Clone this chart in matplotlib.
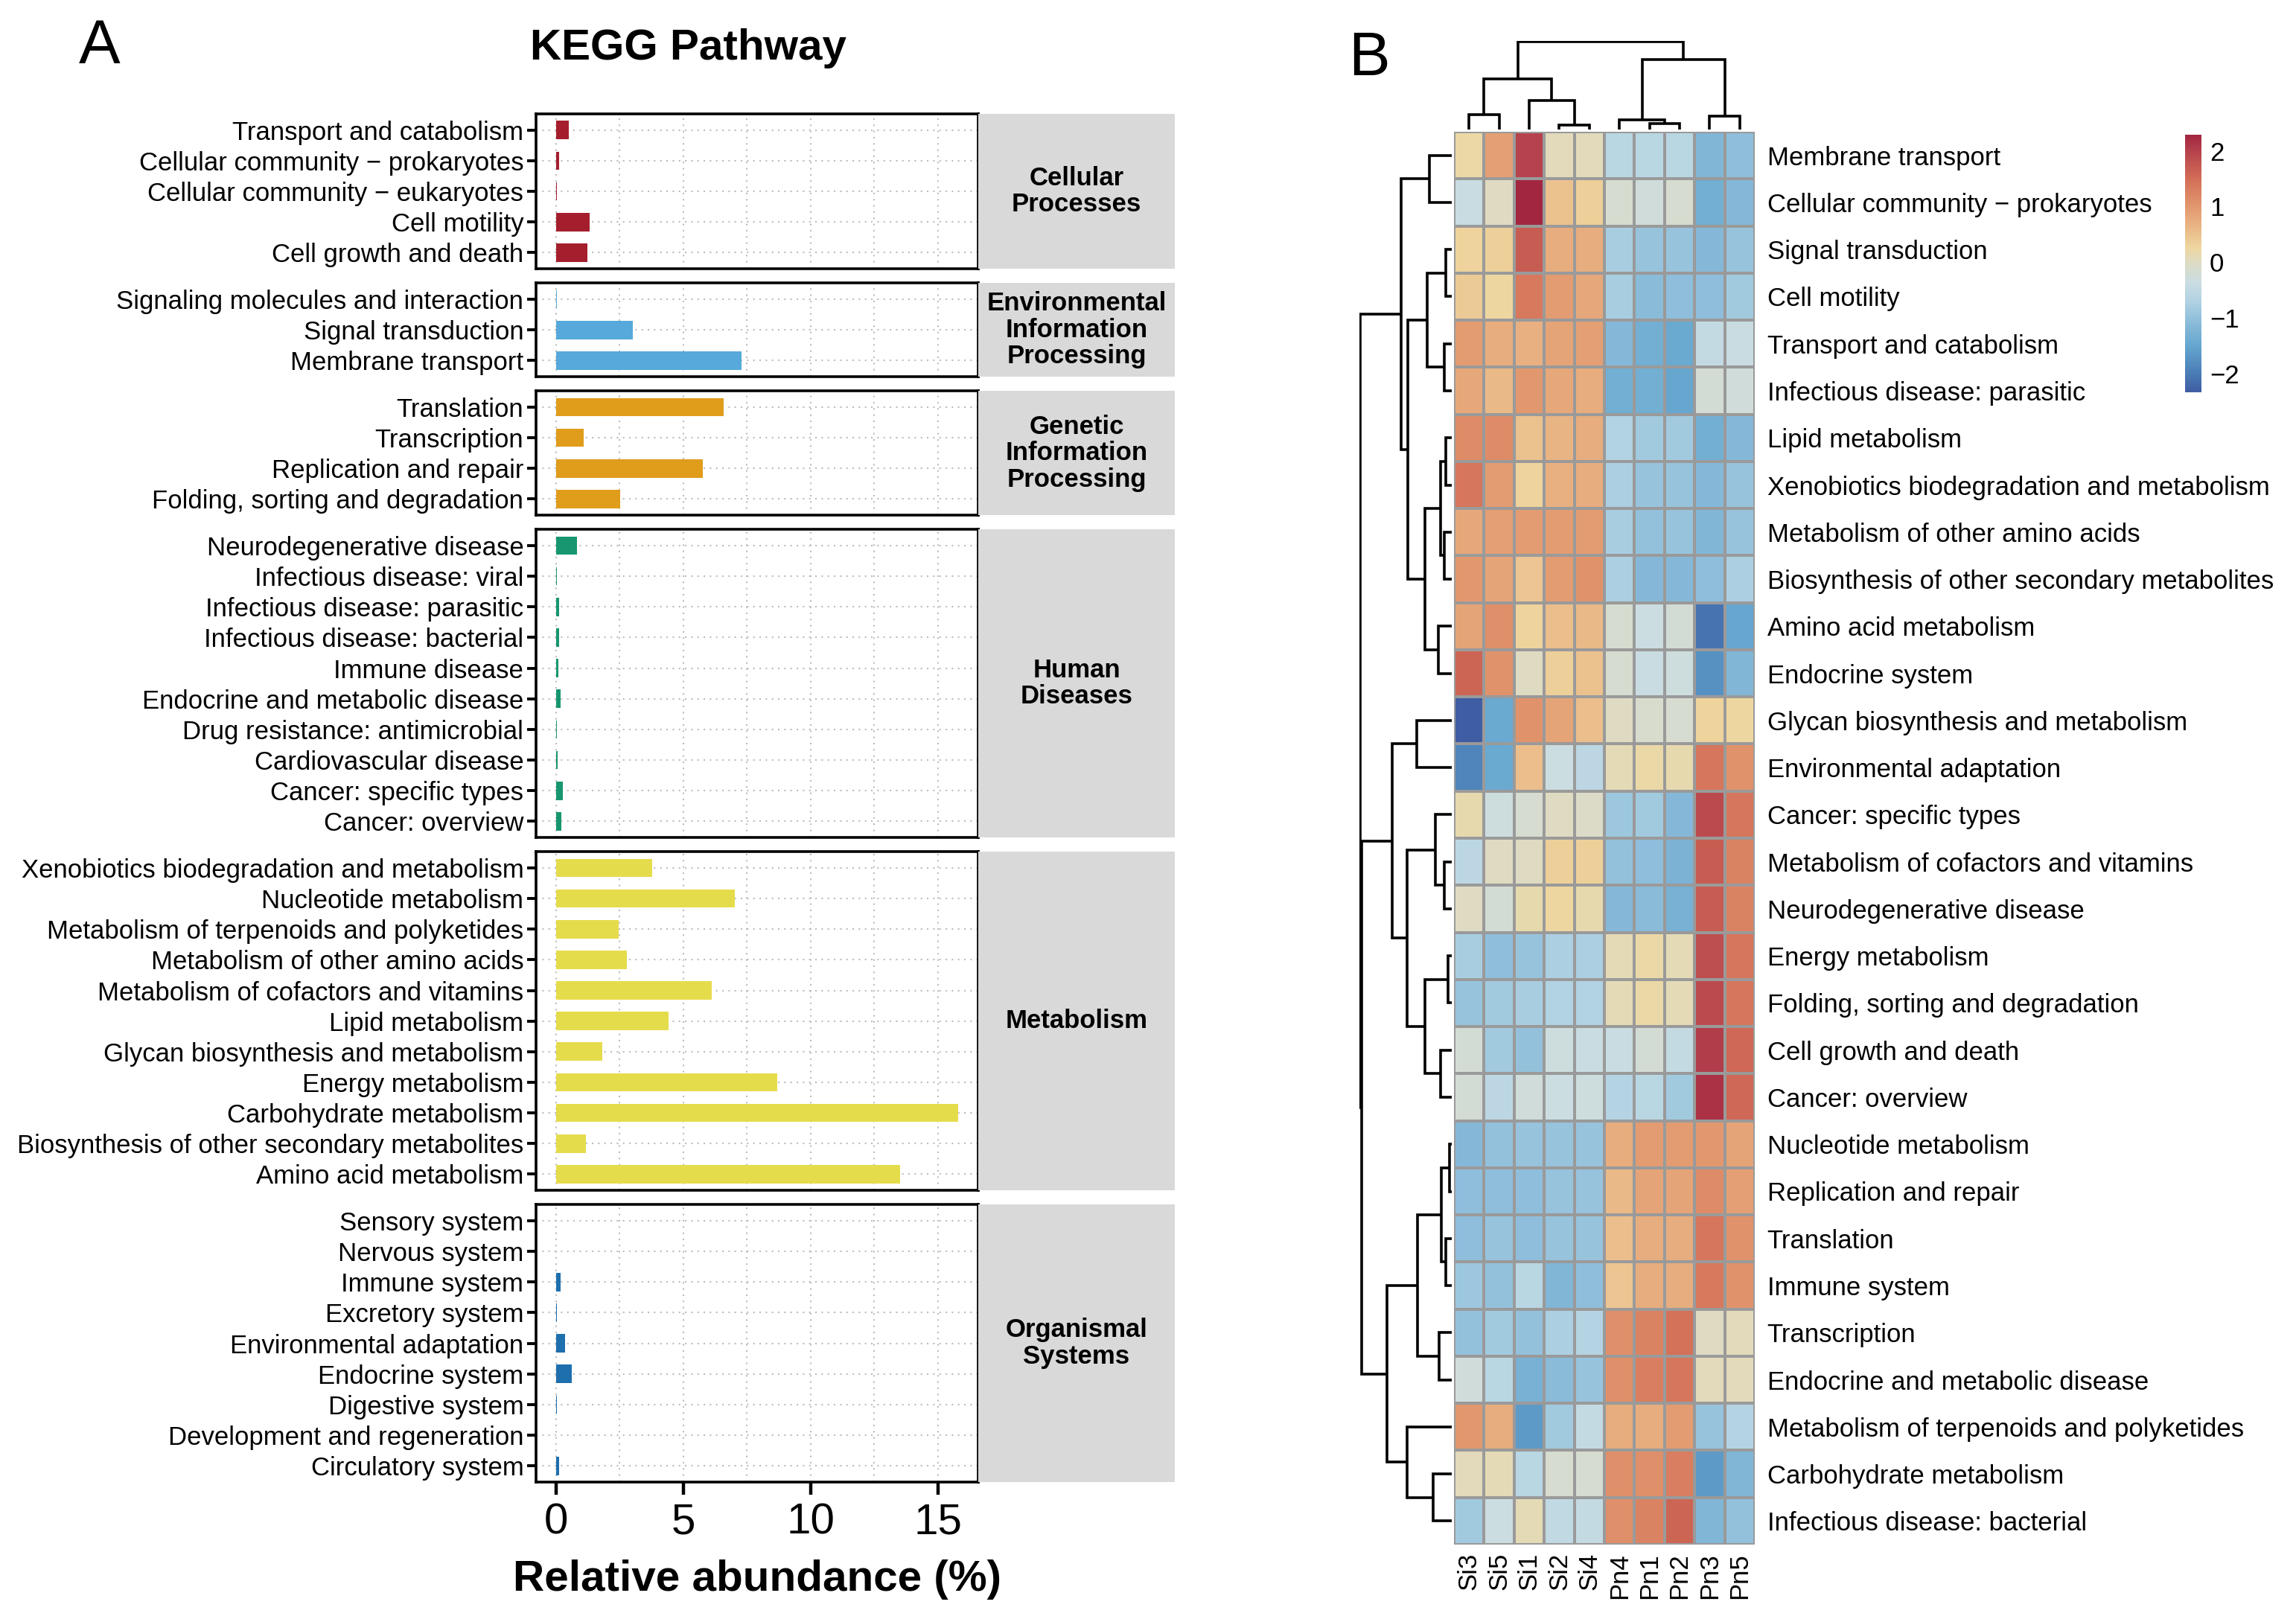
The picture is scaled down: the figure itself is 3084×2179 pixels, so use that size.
import numpy as np
import matplotlib
matplotlib.use("Agg")
import matplotlib.pyplot as plt
from matplotlib.colors import LinearSegmentedColormap, Normalize
from matplotlib.cm import ScalarMappable

plt.rcParams['font.family'] = ['Liberation Sans', 'DejaVu Sans']

# ---- panel A data (relative abundance, %) ----
group_names = ["Cellular\nProcesses", "Environmental\nInformation\nProcessing",
               "Genetic\nInformation\nProcessing", "Human\nDiseases",
               "Metabolism", "Organismal\nSystems"]
group_colors = ["#A51E2D", "#56A9DA", "#E09C1B", "#17966F", "#E5DC4C", "#1E6FAE"]

cellular_labels = ["Transport and catabolism", "Cellular community \u2212 prokaryotes",
                   "Cellular community \u2212 eukaryotes", "Cell motility", "Cell growth and death"]
cellular_vals = [0.50, 0.13, 0.02, 1.31, 1.22]

env_labels = ["Signaling molecules and interaction", "Signal transduction", "Membrane transport"]
env_vals = [0.02, 3.00, 7.27]

genetic_labels = ["Translation", "Transcription", "Replication and repair",
                  "Folding, sorting and degradation"]
genetic_vals = [6.58, 1.07, 5.77, 2.52]

human_labels = ["Neurodegenerative disease", "Infectious disease: viral",
                "Infectious disease: parasitic", "Infectious disease: bacterial",
                "Immune disease", "Endocrine and metabolic disease",
                "Drug resistance: antimicrobial", "Cardiovascular disease",
                "Cancer: specific types", "Cancer: overview"]
human_vals = [0.81, 0.02, 0.13, 0.13, 0.10, 0.18, 0.02, 0.05, 0.25, 0.20]

metab_labels = ["Xenobiotics biodegradation and metabolism", "Nucleotide metabolism",
                "Metabolism of terpenoids and polyketides", "Metabolism of other amino acids",
                "Metabolism of cofactors and vitamins", "Lipid metabolism",
                "Glycan biosynthesis and metabolism", "Energy metabolism",
                "Carbohydrate metabolism", "Biosynthesis of other secondary metabolites",
                "Amino acid metabolism"]
metab_vals = [3.78, 7.01, 2.45, 2.79, 6.12, 4.41, 1.81, 8.69, 15.79, 1.17, 13.50]

org_labels = ["Sensory system", "Nervous system", "Immune system", "Excretory system",
              "Environmental adaptation", "Endocrine system", "Digestive system",
              "Development and regeneration", "Circulatory system"]
org_vals = [0.01, 0.01, 0.19, 0.03, 0.34, 0.61, 0.03, 0.01, 0.12]

# ---- panel B data (row z-scores) ----
samples = ["Si3", "Si5", "Si1", "Si2", "Si4", "Pn4", "Pn1", "Pn2", "Pn3", "Pn5"]
pathways = ["Membrane transport", "Cellular community \u2212 prokaryotes", "Signal transduction",
            "Cell motility", "Transport and catabolism", "Infectious disease: parasitic",
            "Lipid metabolism", "Xenobiotics biodegradation and metabolism",
            "Metabolism of other amino acids", "Biosynthesis of other secondary metabolites",
            "Amino acid metabolism", "Endocrine system", "Glycan biosynthesis and metabolism",
            "Environmental adaptation", "Cancer: specific types",
            "Metabolism of cofactors and vitamins", "Neurodegenerative disease",
            "Energy metabolism", "Folding, sorting and degradation", "Cell growth and death",
            "Cancer: overview", "Nucleotide metabolism", "Replication and repair",
            "Translation", "Immune system", "Transcription", "Endocrine and metabolic disease",
            "Metabolism of terpenoids and polyketides", "Carbohydrate metabolism",
            "Infectious disease: bacterial"]
zscores = [
    [0.20, 0.90, 2.00, 0.05, 0.05, -0.60, -0.60, -0.60, -1.20, -1.05],
    [-0.40, 0.00, 2.29, 0.50, 0.35, -0.15, -0.25, -0.15, -1.35, -1.15],
    [0.30, 0.35, 1.70, 0.75, 0.75, -0.80, -0.95, -0.95, -1.15, -0.95],
    [0.40, 0.25, 1.35, 0.95, 0.80, -0.80, -1.10, -1.05, -1.05, -0.85],
    [0.95, 0.75, 0.70, 0.85, 0.90, -1.15, -1.35, -1.45, -0.45, -0.40],
    [0.80, 0.60, 1.00, 0.80, 0.75, -1.35, -1.35, -1.50, -0.20, -0.25],
    [1.15, 1.15, 0.50, 0.65, 0.75, -0.70, -0.85, -0.85, -1.35, -1.15],
    [1.40, 0.95, 0.30, 0.70, 0.75, -0.75, -0.95, -0.95, -1.15, -0.95],
    [0.80, 0.90, 0.95, 0.95, 0.95, -0.80, -1.00, -0.95, -1.20, -0.95],
    [1.00, 0.85, 0.45, 0.95, 1.05, -0.75, -1.15, -1.15, -1.05, -0.75],
    [0.85, 1.10, 0.30, 0.55, 0.60, -0.15, -0.35, -0.20, -2.10, -1.50],
    [1.60, 1.05, 0.00, 0.35, 0.50, -0.15, -0.40, -0.30, -1.75, -1.20],
    [-2.34, -1.45, 1.05, 0.85, 0.55, 0.00, -0.10, -0.15, 0.30, 0.25],
    [-1.90, -1.45, 0.55, -0.35, -0.55, 0.10, 0.20, 0.15, 1.40, 1.05],
    [0.15, -0.30, -0.15, 0.00, -0.05, -0.90, -0.85, -1.15, 1.90, 1.40],
    [-0.55, 0.00, 0.00, 0.35, 0.35, -1.00, -1.05, -1.25, 1.70, 1.25],
    [0.00, -0.20, 0.15, 0.25, 0.15, -1.15, -1.10, -1.30, 1.70, 1.25],
    [-0.80, -1.05, -0.95, -0.75, -0.75, 0.10, 0.20, 0.10, 1.85, 1.40],
    [-0.95, -0.85, -0.80, -0.70, -0.70, 0.10, 0.20, 0.10, 1.90, 1.40],
    [-0.20, -0.85, -1.00, -0.30, -0.40, -0.40, -0.20, -0.45, 2.05, 1.55],
    [-0.20, -0.55, -0.25, -0.35, -0.30, -0.65, -0.60, -0.85, 2.15, 1.55],
    [-1.15, -1.00, -0.95, -0.95, -0.95, 0.75, 0.95, 0.95, 1.00, 0.85],
    [-1.05, -1.05, -1.05, -0.95, -0.95, 0.60, 0.85, 0.85, 1.15, 0.90],
    [-1.05, -0.95, -1.05, -0.95, -0.95, 0.55, 0.75, 0.75, 1.40, 1.05],
    [-0.90, -1.00, -0.60, -1.20, -1.05, 0.45, 0.75, 0.75, 1.35, 1.05],
    [-1.00, -0.85, -1.00, -0.75, -0.65, 1.10, 1.25, 1.45, 0.00, 0.05],
    [-0.25, -0.60, -1.30, -1.10, -0.95, 1.10, 1.30, 1.40, 0.05, 0.05],
    [1.00, 0.75, -1.65, -0.85, -0.45, 0.75, 0.75, 0.95, -0.95, -0.65],
    [0.05, 0.10, -0.60, -0.15, -0.15, 1.10, 1.10, 1.30, -1.65, -1.20],
    [-0.85, -0.35, 0.10, -0.50, -0.45, 1.10, 1.25, 1.60, -1.20, -1.00],
]

# clustering trees: (left, right, merge height), leaves are display indices
col_tree = (((0, 1, 62), (2, (3, 4, 20), 122), 214),
            ((5, (6, 7, 25), 40), (8, 9, 57), 295), 370)
row_a = ((0, 1, 87),
         (((2, 3, 23), (4, 5, 30), 97),
          (((6, 7, 23), (8, 9, 30), 45), (10, 11, 53), 105), 172), 200)
row_b1 = ((12, 13, 137),
          ((14, (15, 16, 30), 65), ((17, 18, 15), (19, 20, 45), 105), 177), 235)
row_b2 = ((((21, 22, 8), (23, 24, 23), 40), (25, 26, 50), 135),
          (27, (28, 29, 73), 175), 255)
row_tree = (row_a, (row_b1, row_b2, 355), 362)

W, H = 3084, 2179
fig = plt.figure(figsize=(W / 100, H / 100), dpi=100)
FS = 25


def box(x0, y0, x1, y1):
    # pixel box (top-left origin) -> figure fraction rect
    return [x0 / W, 1 - y1 / H, (x1 - x0) / W, (y1 - y0) / H]


# ---------------- Panel A ----------------
groups = [(cellular_labels, cellular_vals), (env_labels, env_vals),
          (genetic_labels, genetic_vals), (human_labels, human_vals),
          (metab_labels, metab_vals), (org_labels, org_vals)]
all_vals = sum([g[1] for g in groups], [])
xmax = max(all_vals)
xlim = (-0.05 * xmax, 1.05 * xmax)

top, bottom, gap = 153, 1991, 19
pad = 0.53
units = sum(len(g[0]) - 1 + 2 * pad for g in groups)
u = (bottom - top - gap * (len(groups) - 1)) / units
px_l, px_r, strip_r = 720, 1314, 1578

y = top
for i, (labels, vals) in enumerate(groups):
    n = len(labels)
    h = (n - 1 + 2 * pad) * u
    ax = fig.add_axes(box(px_l, y, px_r, y + h))
    ax.barh(np.arange(n), vals, height=0.6, color=group_colors[i], zorder=3)
    ax.set_ylim(n - 1 + pad, -pad)
    ax.set_xlim(*xlim)
    ax.set_yticks(np.arange(n))
    ax.set_yticklabels(labels, fontsize=FS)
    ax.set_xticks([0, 5, 10, 15])
    ax.set_xticks([2.5, 7.5, 12.5], minor=True)
    ax.grid(True, which='both', axis='x', color='#BDBDBD', linestyle=(0, (1, 3)), lw=1.5, zorder=0)
    ax.grid(True, which='major', axis='y', color='#BDBDBD', linestyle=(0, (1, 3)), lw=1.5, zorder=0)
    ax.tick_params(axis='y', length=9, width=2.8, pad=3, colors='black')
    ax.tick_params(axis='x', which='minor', length=0)
    for s in ax.spines.values():
        s.set_linewidth(2.6)
    if i == len(groups) - 1:
        ax.tick_params(axis='x', which='major', length=12, width=3.2, labelsize=42, pad=8)
        ax.set_xlabel("Relative abundance (%)", fontsize=42, fontweight='bold', labelpad=16)
    else:
        ax.tick_params(axis='x', which='major', length=0, labelbottom=False)
    sax = fig.add_axes(box(px_r, y, strip_r, y + h))
    sax.set_facecolor('#D9D9D9')
    sax.set_xticks([])
    sax.set_yticks([])
    for s in sax.spines.values():
        s.set_visible(False)
    sax.text(0.5, 0.5, group_names[i], ha='center', va='center', fontsize=FS,
             fontweight='bold', transform=sax.transAxes, linespacing=1.1)
    y += h + gap

fig.text(925 / W, 1 - 65 / H, "KEGG Pathway", ha='center', va='center',
         fontsize=42, fontweight='bold')
fig.text(134 / W, 1 - 63 / H, "A", ha='center', va='center', fontsize=60)

# ---------------- Panel B ----------------
anchors = [(-2.34, "#3F5DA3"), (-2.0, "#4A7DB6"), (-1.5, "#66A6CF"), (-1.0, "#93C1DC"),
           (-0.7, "#B2D3E3"), (-0.35, "#CBDDE2"), (0.0, "#DEDBC2"), (0.25, "#EED7A0"),
           (0.6, "#EAB988"), (1.0, "#E2986E"), (1.5, "#D36E57"), (2.0, "#B6424D"),
           (2.29, "#A2263F")]
z = np.array(zscores)
vmin, vmax = z.min(), z.max()
cmap = LinearSegmentedColormap.from_list(
    "kegg", [((v - vmin) / (vmax - vmin), c) for v, c in anchors])
norm = Normalize(vmin, vmax)

hx0, hx1, hy0, hy1 = 1953, 2357, 177, 2075
hax = fig.add_axes(box(hx0, hy0, hx1, hy1))
hax.pcolormesh(z, cmap=cmap, norm=norm, edgecolors='#9A9A9A', linewidth=1.6)
hax.set_xlim(0, len(samples))
hax.set_ylim(len(pathways), 0)
hax.set_yticks(np.arange(len(pathways)) + 0.5)
hax.set_yticklabels(pathways, fontsize=FS)
hax.yaxis.tick_right()
hax.set_xticks(np.arange(len(samples)) + 0.5)
hax.set_xticklabels(samples, fontsize=FS, rotation=90)
hax.tick_params(length=0, pad=12)
hax.tick_params(axis='x', pad=8)
for s in hax.spines.values():
    s.set_visible(False)


def draw_tree(ax, node, orient):
    if isinstance(node, int):
        return node + 0.5, 0
    l, r, h = node
    pl, hl = draw_tree(ax, l, orient)
    pr, hr = draw_tree(ax, r, orient)
    if orient == 'top':
        ax.plot([pl, pl, pr, pr], [hl, h, h, hr], color='black', lw=2.6,
                solid_capstyle='butt', solid_joinstyle='miter')
    else:
        ax.plot([hl, h, h, hr], [pl, pl, pr, pr], color='black', lw=2.6,
                solid_capstyle='butt', solid_joinstyle='miter')
    return (pl + pr) / 2, h


cax_d = fig.add_axes(box(hx0, 55, hx1, 174))
draw_tree(cax_d, col_tree, 'top')
cax_d.set_xlim(0, len(samples))
cax_d.set_ylim(0, col_tree[2] * 1.005)
cax_d.axis('off')

rax_d = fig.add_axes(box(1826, hy0, 1950, hy1))
draw_tree(rax_d, row_tree, 'left')
rax_d.set_ylim(len(pathways), 0)
rax_d.set_xlim(row_tree[2] * 1.005, 0)
rax_d.axis('off')

fig.text(1839 / W, 1 - 79 / H, "B", ha='center', va='center', fontsize=60)

cbax = fig.add_axes(box(2935, 181, 2957, 527))
cb = fig.colorbar(ScalarMappable(norm=norm, cmap=cmap), cax=cbax, ticks=[-2, -1, 0, 1, 2])
cb.outline.set_visible(False)
cb.ax.tick_params(length=0, labelsize=FS, pad=8)

fig.savefig("out.png", dpi=100, facecolor='white')
